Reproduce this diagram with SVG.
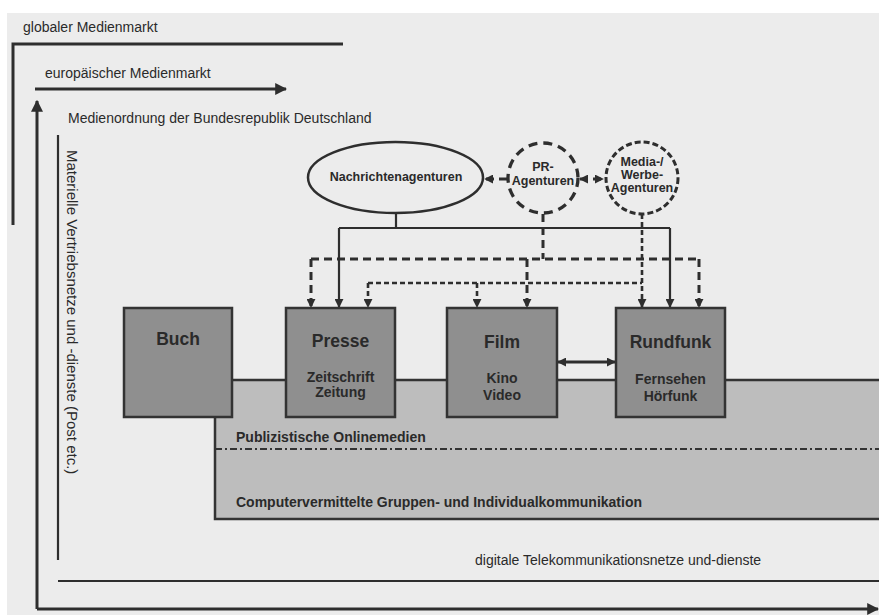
<svg xmlns="http://www.w3.org/2000/svg" width="879" height="615" viewBox="0 0 879 615">
<defs>
<marker id="ah" viewBox="0 0 10 10" refX="9" refY="5" markerWidth="9" markerHeight="9" markerUnits="userSpaceOnUse" orient="auto-start-reverse">
<path d="M0,0 L10,5 L0,10 z" fill="#2e2e2e"/>
</marker>
<marker id="ahL" viewBox="0 0 10 10" refX="9" refY="5" markerWidth="12" markerHeight="12" markerUnits="userSpaceOnUse" orient="auto-start-reverse">
<path d="M0,0 L10,5 L0,10 z" fill="#2e2e2e"/>
</marker>
</defs>
<style>
.ln{stroke:#2e2e2e;stroke-width:2.2;fill:none}
.thick{stroke:#2e2e2e;stroke-width:3;fill:none}
.d1{stroke:#2e2e2e;stroke-width:3;fill:none;stroke-dasharray:8 5}
.d2{stroke:#2e2e2e;stroke-width:2.6;fill:none;stroke-dasharray:5 3}
.box{fill:#8f8f8f;stroke:#333;stroke-width:2.5}
.t{font-family:"Liberation Sans",Arial,sans-serif;fill:#2a2a2a}
.b{font-weight:bold}
.s14{font-size:14px}
.s12{font-size:12.5px}
.s17{font-size:17.5px}
.mid{text-anchor:middle}
</style>
<rect x="0" y="0" width="879" height="615" fill="#ffffff"/>
<rect x="7" y="13" width="872" height="602" fill="#ececec"/>

<g id="frames">
<path class="thick" d="M343,44 H13 V225"/>
<text class="t s14" x="23" y="32">globaler Medienmarkt</text>
<path class="thick" d="M35,89 H286" marker-end="url(#ahL)"/>
<text class="t s14" x="45" y="78">europäischer Medienmarkt</text>
<path class="thick" d="M37,609 V101" marker-end="url(#ahL)"/>
<path class="thick" d="M37,609 H878" marker-end="url(#ahL)"/>
<text class="t s14" x="68" y="123">Medienordnung der Bundesrepublik Deutschland</text>
<path class="ln" d="M58,135 V560"/>
<path class="ln" d="M58,581 H879"/>
<text class="t" style="font-size:15px" transform="translate(67,150) rotate(90)" x="0" y="0">Materielle Vertriebsnetze und -dienste (Post etc.)</text>
<text class="t s14" x="475" y="565">digitale Telekommunikationsnetze und-dienste</text>
</g>

<g id="band">
<rect x="215" y="380" width="670" height="139" fill="#bdbdbd" stroke="#333" stroke-width="2.5"/>
<path d="M215,449 H879" stroke="#333" stroke-width="2" fill="none" stroke-dasharray="7 3 2 3"/>
<text class="t b s14" x="236" y="442">Publizistische Onlinemedien</text>
<text class="t b s14" x="236" y="507">Computervermittelte Gruppen- und Individualkommunikation</text>
</g>

<g id="connectors">
<path class="ln" d="M396,213 V228 M339,228 H670"/>
<path class="ln" d="M339,228 V307" marker-end="url(#ah)"/>
<path class="ln" d="M670,228 V307" marker-end="url(#ah)"/>
<path class="d1" d="M543,214 V259 M311,259 H699"/>
<path class="d1" d="M311,259 V307" marker-end="url(#ah)"/>
<path class="d1" d="M527,259 V307" marker-end="url(#ah)"/>
<path class="d1" d="M699,259 V307" marker-end="url(#ah)"/>
<path class="d2" d="M368,283 H642"/>
<path class="d2" d="M642,214 V307" marker-end="url(#ah)"/>
<path class="d2" d="M368,283 V307" marker-end="url(#ah)"/>
<path class="d2" d="M477,283 V307" marker-end="url(#ah)"/>
<path class="d1" d="M507,179 H485" stroke-dasharray="4 3" marker-end="url(#ah)"/>
<path class="d1" d="M580,179 H603" stroke-dasharray="none" stroke-width="2.5" marker-start="url(#ah)" marker-end="url(#ah)"/>
<path class="thick" d="M558,362 H615" marker-start="url(#ah)" marker-end="url(#ah)"/>
</g>

<g id="nachrichtenagenturen">
<ellipse cx="395.5" cy="177.5" rx="87.5" ry="35.5" fill="none" stroke="#2e2e2e" stroke-width="2.5"/>
<text class="t b s12 mid" x="396" y="181">Nachrichtenagenturen</text>
</g>
<g id="pr">
<circle cx="543" cy="178" r="35" fill="none" stroke="#2e2e2e" stroke-width="3.3" stroke-dasharray="9 6"/>
<text class="t b s12 mid" x="543" y="171">PR-</text>
<text class="t b s12 mid" x="543" y="185">Agenturen</text>
</g>
<g id="media">
<circle cx="642" cy="178" r="36" fill="none" stroke="#2e2e2e" stroke-width="3" stroke-dasharray="6 3"/>
<text class="t b s12 mid" x="642" y="166">Media-/</text>
<text class="t b s12 mid" x="642" y="179">Werbe-</text>
<text class="t b s12 mid" x="642" y="192">Agenturen</text>
</g>

<g id="buch">
<rect class="box" x="124" y="308" width="108" height="109"/>
<text class="t b s17 mid" x="178" y="345">Buch</text>
</g>
<g id="presse">
<rect class="box" x="286" y="308" width="109" height="109"/>
<text class="t b s17 mid" x="340.5" y="347">Presse</text>
<text class="t b s14 mid" x="340.5" y="382">Zeitschrift</text>
<text class="t b s14 mid" x="340.5" y="397">Zeitung</text>
</g>
<g id="film">
<rect class="box" x="447" y="308" width="110" height="109"/>
<text class="t b s17 mid" x="502" y="348">Film</text>
<text class="t b s14 mid" x="502" y="383">Kino</text>
<text class="t b s14 mid" x="502" y="400">Video</text>
</g>
<g id="rundfunk">
<rect class="box" x="616" y="308" width="109" height="109"/>
<text class="t b s17 mid" x="670.5" y="348">Rundfunk</text>
<text class="t b s14 mid" x="670.5" y="384">Fernsehen</text>
<text class="t b s14 mid" x="670.5" y="401">Hörfunk</text>
</g>
</svg>
